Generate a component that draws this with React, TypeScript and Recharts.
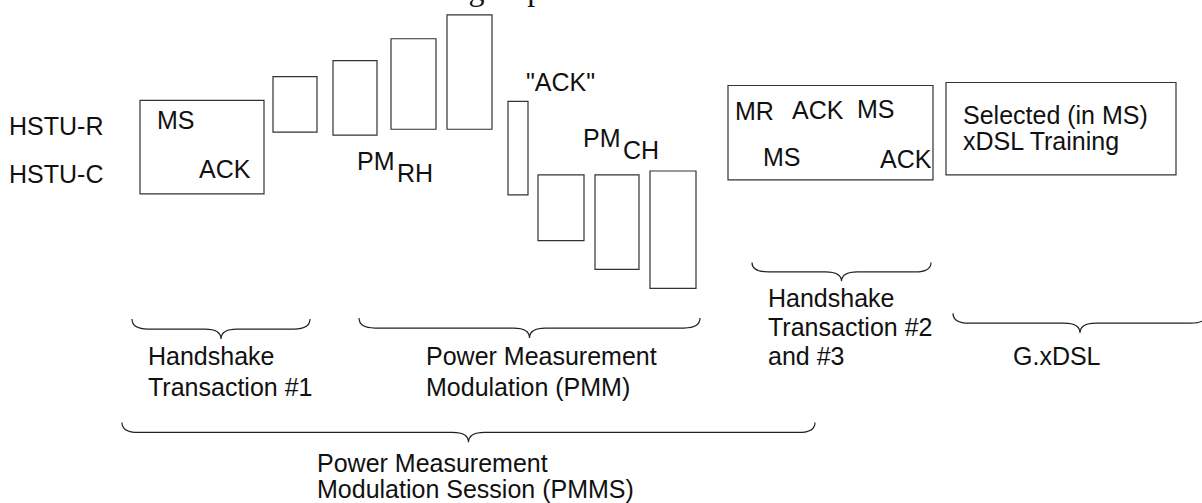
import React from "react";
import { ScatterChart, XAxis, YAxis, ReferenceArea, Scatter } from "recharts";

const W = 1202;
const H = 503;

// rectangles of the handshake / measurement signals (diagram units = px)
const frames = [
  { x1: 140, x2: 264, y1: 98, y2: 192 },
  { x1: 273, x2: 317, y1: 74, y2: 130 },
  { x1: 333, x2: 377, y1: 58, y2: 133 },
  { x1: 391, x2: 436, y1: 36, y2: 127 },
  { x1: 447, x2: 492, y1: 12, y2: 127 },
  { x1: 508, x2: 528, y1: 99, y2: 193 },
  { x1: 538, x2: 584, y1: 173, y2: 239 },
  { x1: 595, x2: 639, y1: 173, y2: 268 },
  { x1: 650, x2: 696, y1: 169, y2: 287 },
  { x1: 728, x2: 933, y1: 83, y2: 178 },
  { x1: 946, x2: 1176, y1: 80, y2: 173 },
];

// curly braces, tip pointing down
const braces = [
  { x1: 132, x2: 310, y1: 318, y2: 338 },
  { x1: 359, x2: 700, y1: 317, y2: 337 },
  { x1: 752, x2: 931, y1: 261, y2: 280 },
  { x1: 953, x2: 1207, y1: 312, y2: 332 },
  { x1: 122, x2: 815, y1: 422, y2: 442 },
];

const labels = [
  { x: 9, y: 133, text: "HSTU-R" },
  { x: 9, y: 181, text: "HSTU-C" },
  { x: 157, y: 127, text: "MS" },
  { x: 199, y: 176, text: "ACK" },
  { x: 357, y: 168, text: "PM" },
  { x: 397, y: 180, text: "RH" },
  { x: 526, y: 89, text: '"ACK"' },
  { x: 583, y: 145, text: "PM" },
  { x: 623, y: 157, text: "CH" },
  { x: 735, y: 118, text: "MR" },
  { x: 792, y: 117, text: "ACK" },
  { x: 857, y: 116, text: "MS" },
  { x: 763, y: 164, text: "MS" },
  { x: 880, y: 166, text: "ACK" },
  { x: 963, y: 122, text: "Selected (in MS)" },
  { x: 963, y: 148, text: "xDSL Training" },
  { x: 148, y: 364, text: "Handshake" },
  { x: 148, y: 395, text: "Transaction #1" },
  { x: 426, y: 364, text: "Power Measurement" },
  { x: 426, y: 395, text: "Modulation (PMM)" },
  { x: 768, y: 306, text: "Handshake" },
  { x: 768, y: 335, text: "Transaction #2" },
  { x: 768, y: 364, text: "and #3" },
  { x: 1013, y: 364, text: "G.xDSL" },
  { x: 317, y: 472, text: "Power Measurement" },
  { x: 317, y: 498, text: "Modulation Session (PMMS)" },
];

// caption cut off at the top edge, only descenders show
const caption = [{ x: 369, y: -3, text: "Ordering of power measurement" }];

const Brace = (props: any) => {
  const { x, y, width, height } = props;
  const ym = y + height * 0.5;
  const cx = x + width / 2;
  const r = 16;
  const d = [
    `M${x},${y}`,
    `Q${x},${ym} ${x + r},${ym}`,
    `L${cx - r},${ym}`,
    `Q${cx},${ym} ${cx},${y + height}`,
    `Q${cx},${ym} ${cx + r},${ym}`,
    `L${x + width - r},${ym}`,
    `Q${x + width},${ym} ${x + width},${y}`,
  ].join(" ");
  return <path d={d} fill="none" stroke="#222" strokeWidth={1.2} />;
};

const Label = (props: any) => {
  const { cx, cy, payload } = props;
  return (
    <text x={cx} y={cy} fontFamily="'Liberation Sans', Arial, sans-serif" fontSize={25} fill="#111">
      {payload.text}
    </text>
  );
};

const Caption = (props: any) => {
  const { cx, cy, payload } = props;
  return (
    <text x={cx} y={cy} fontFamily="'Liberation Serif', 'Times New Roman', serif" fontSize={32} fill="#111">
      {payload.text}
    </text>
  );
};

export default function App() {
  return (
    <div style={{ position: "absolute", left: 0, top: 0, background: "#fff" }}>
      <ScatterChart width={W} height={H} margin={{ top: 0, right: 0, bottom: 0, left: 0 }}>
        <XAxis type="number" dataKey="x" domain={[0, W]} hide allowDataOverflow />
        <YAxis type="number" dataKey="y" domain={[0, H]} reversed hide />
        {frames.map((f, i) => (
          <ReferenceArea
            key={`f${i}`}
            {...f}
            fill="none"
            stroke="#333"
            strokeWidth={1.2}
            ifOverflow="visible"
          />
        ))}
        {braces.map((b, i) => (
          <ReferenceArea key={`b${i}`} {...b} ifOverflow="visible" shape={(p: any) => <Brace {...p} />} />
        ))}
        <Scatter data={labels} shape={(p: any) => <Label {...p} />} isAnimationActive={false} />
        <Scatter data={caption} shape={(p: any) => <Caption {...p} />} isAnimationActive={false} />
      </ScatterChart>
    </div>
  );
}
